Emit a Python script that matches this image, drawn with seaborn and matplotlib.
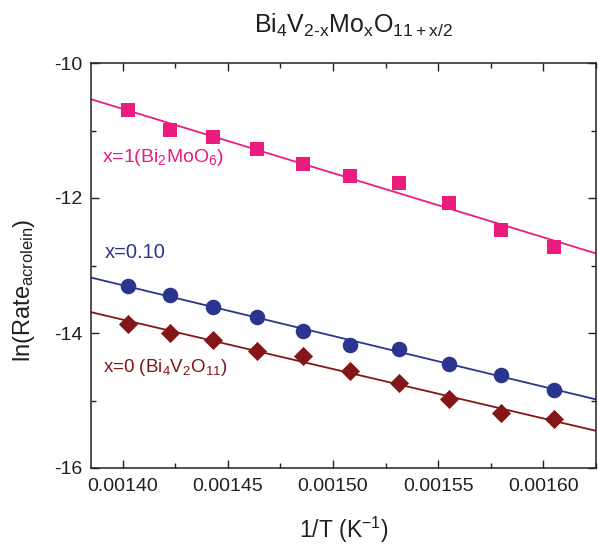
import numpy as np
import pandas as pd
import matplotlib
matplotlib.use("Agg")
import matplotlib.pyplot as plt
import seaborn as sns
from matplotlib.ticker import MultipleLocator

# ---- data ----
inv_T = [0.0014025, 0.0014225, 0.0014430, 0.0014641, 0.0014859,
         0.0015083, 0.0015314, 0.0015552, 0.0015798, 0.0016051]
ln_rate_x1 = [-10.70, -10.99, -11.09, -11.28, -11.50,
              -11.68, -11.78, -12.07, -12.47, -12.73]
ln_rate_x010 = [-13.31, -13.43, -13.62, -13.76, -13.97,
                -14.18, -14.23, -14.46, -14.62, -14.84]
ln_rate_x0 = [-13.86, -14.00, -14.11, -14.26, -14.34,
              -14.56, -14.74, -14.98, -15.19, -15.28]
labels = ["x=1(Bi$_2$MoO$_6$)", "x=0.10", "x=0 (Bi$_4$V$_2$O$_{11}$)"]
x_ticks = [0.00140, 0.00145, 0.00150, 0.00155, 0.00160]
y_ticks = [-16, -14, -12, -10]

sns.set_style("ticks")
plt.rcParams["font.family"] = ["Liberation Sans", "DejaVu Sans"]
plt.rcParams["mathtext.fontset"] = "custom"
plt.rcParams["mathtext.rm"] = "Liberation Sans"
plt.rcParams["mathtext.it"] = "Liberation Sans"
plt.rcParams["mathtext.bf"] = "Liberation Sans:bold"
plt.rcParams["mathtext.default"] = "regular"
plt.rcParams["axes.unicode_minus"] = False

ink = "#231F20"
pink = "#EC1B7E"
blue = "#2B3590"
red = "#841617"

fig = plt.figure(figsize=(5.98, 5.44), dpi=100)
ax = fig.add_axes([91/598, 1-468/544, 505/598, 405/544])
ax.set_xlim(0.001385, 0.001625)
ax.set_ylim(-16, -10)

series = [
    (ln_rate_x1, pink, "s", 110),
    (ln_rate_x010, blue, "o", 125),
    (ln_rate_x0, red, "D", 95),
]
for vals, col, mk, sz in series:
    df = pd.DataFrame({"x": inv_T, "y": vals})
    sns.regplot(data=df, x="x", y="y", ax=ax, ci=None, truncate=False,
                marker=mk, color=col,
                scatter_kws=dict(s=sz, linewidths=0, alpha=1, zorder=3),
                line_kws=dict(lw=1.3, zorder=2))

ax.set_xlim(0.001385, 0.001625)
ax.set_ylim(-16, -10)
ax.set_xticks(x_ticks)
ax.set_xticklabels([f"{v:.5f}" for v in x_ticks])
ax.set_yticks(y_ticks)
ax.set_yticklabels([str(v) for v in y_ticks])
ax.xaxis.set_minor_locator(MultipleLocator(0.000025))
ax.yaxis.set_minor_locator(MultipleLocator(1))
ax.tick_params(which="both", direction="in", top=True, right=True,
               colors=ink, width=1.0)
ax.tick_params(which="major", length=6, labelsize=14, labelcolor=ink)
ax.tick_params(axis="x", which="major", pad=7)
ax.tick_params(axis="y", which="major", pad=6)
ax.tick_params(which="minor", length=3.5)
for sp in ax.spines.values():
    sp.set_visible(True)
    sp.set_color(ink)
    sp.set_linewidth(1.1)

ax.set_xlabel("1/T (K$^{-1}$)", fontsize=16.5, color=ink)
ax.set_ylabel("ln(Rate$_{acrolein}$)", fontsize=17, color=ink)
ax.xaxis.set_label_coords(0.5, -0.115)
ax.yaxis.set_label_coords(-0.106, 0.44)

fig.text(353/598, 1-33/544, "Bi$_4$V$_{2\u2010x}$Mo$_x$O$_{11+x/2}$",
         ha="center", va="baseline", fontsize=18, color=ink)

ax.text(0.022, 0.7556, labels[0], transform=ax.transAxes, color=pink,
        fontsize=14, va="baseline", ha="left")
ax.text(0.028, 0.5185, labels[1], transform=ax.transAxes, color=blue,
        fontsize=14.5, va="baseline", ha="left")
ax.text(0.024, 0.237, labels[2], transform=ax.transAxes, color=red,
        fontsize=13.5, va="baseline", ha="left")

fig.savefig("out.png", dpi=100)
